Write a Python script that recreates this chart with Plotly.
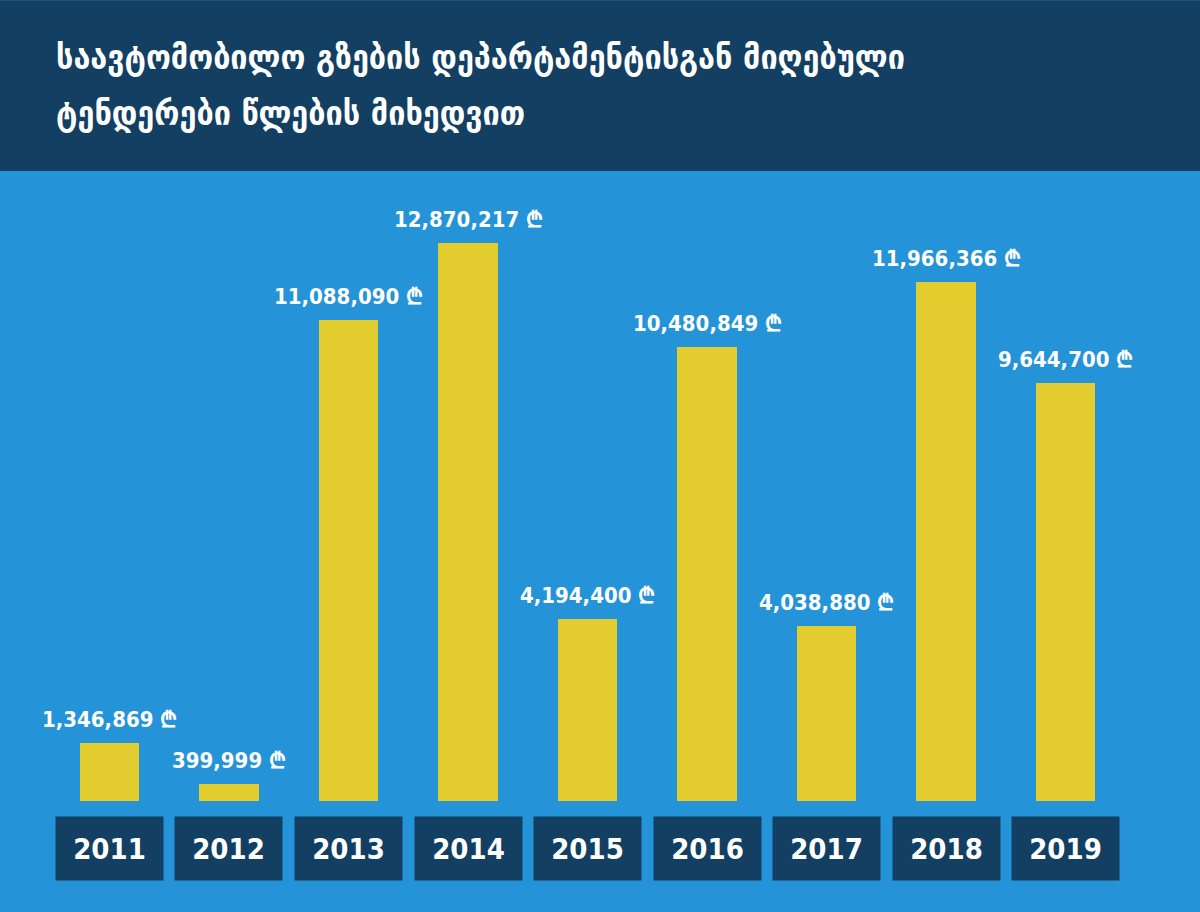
import plotly.graph_objects as go

# data
years = ['2011', '2012', '2013', '2014', '2015', '2016', '2017', '2018', '2019']
amounts = [1346869, 399999, 11088090, 12870217, 4194400, 10480849, 4038880, 11966366, 9644700]
title_lines = ['საავტომობილო გზების დეპარტამენტისგან მიღებული',
               'ტენდერები წლების მიხედვით']

bg = '#2493d7'
dark = '#123f62'
yellow = '#e3cd2e'
num_font = 'DejaVu Sans Condensed, DejaVu Sans'

fig = go.Figure(go.Bar(x=years, y=amounts, width=0.5,
                       marker=dict(color=yellow, line=dict(width=0)),
                       hoverinfo='skip'))

# value labels above bars (x as category index)
for i, v in enumerate(amounts):
    fig.add_annotation(x=i, y=v, xref='x', yref='y', yanchor='bottom',
                       text=f'{v:,} ₾', showarrow=False, yshift=9,
                       font=dict(family=num_font, size=22, color='white', weight='bold'))

# year boxes under the bars
for i, yr in enumerate(years):
    fig.add_annotation(x=i, xref='x', y=-0.024, yref='paper', yanchor='top',
                       text=yr, showarrow=False, width=107, height=63,
                       bgcolor=dark, borderpad=0,
                       font=dict(family=num_font, size=29, color='white', weight='bold'))

# header band
top = 1 + 171 / 631
fig.add_shape(type='rect', xref='paper', yref='paper', x0=0, x1=1,
              y0=1, y1=top, fillcolor=dark, line=dict(width=0), layer='below')

for i, line in enumerate(title_lines):
    fig.add_annotation(xref='paper', yref='paper', x=0.045, y=top - (57 + 56 * i) / 631,
                       xanchor='left', yanchor='middle', showarrow=False, text=line,
                       font=dict(family='DejaVu Sans Condensed, DejaVu Sans', size=34,
                                 color='white', weight='bold'))

fig.update_layout(width=1200, height=912, paper_bgcolor=bg, plot_bgcolor=bg,
                  margin=dict(l=0, r=0, t=171, b=111), showlegend=False,
                  bargap=0)
fig.update_xaxes(type='category', range=[-0.916, 9.125], showticklabels=False,
                 showgrid=False, zeroline=False, showline=False)
fig.update_yaxes(range=[0, 14.53e6], showticklabels=False, showgrid=False,
                 zeroline=False, showline=False)

fig.write_html('out.html', config={'displayModeBar': False},
               post_script="document.body.style.margin='0';")
